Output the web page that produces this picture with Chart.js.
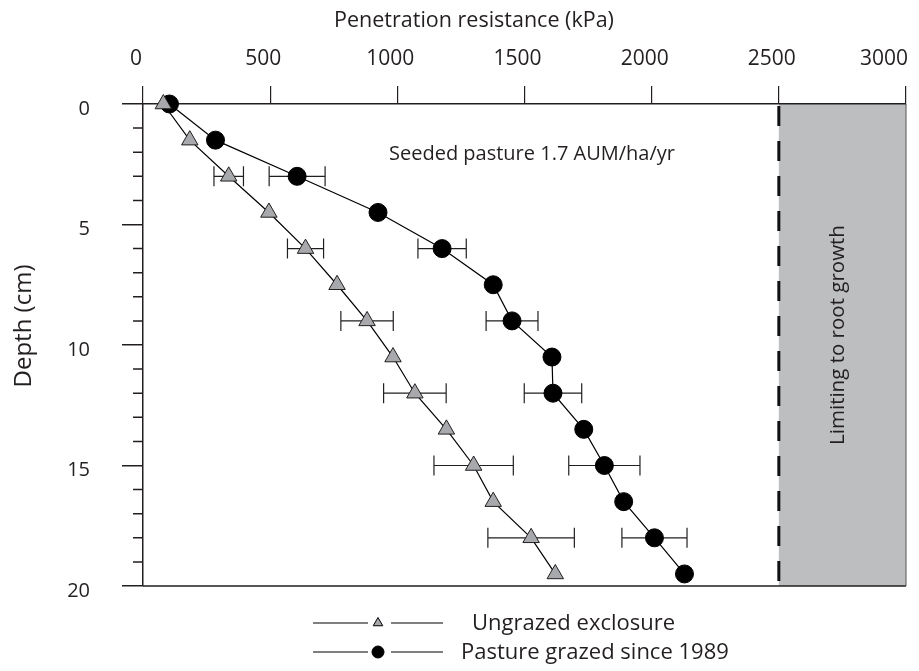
<!DOCTYPE html>
<html>
<head>
<meta charset="utf-8">
<script src="https://cdn.jsdelivr.net/npm/chart.js@4.4.0/dist/chart.umd.min.js"></script>
<style>
  html, body { margin: 0; padding: 0; background: #fff; }
</style>
</head>
<body>
<canvas id="profileChart" width="919" height="671"></canvas>
<script>
// depth (cm) vs penetration resistance (kPa)
const depths = [0, 1.5, 3, 4.5, 6, 7.5, 9, 10.5, 12, 13.5, 15, 16.5, 18, 19.5];
const ungrazed = [80, 184, 337, 495, 639, 763, 881, 983, 1069, 1193, 1300, 1377, 1526, 1621];
const grazed = [104, 285, 606, 924, 1176, 1377, 1451, 1608, 1612, 1733, 1814, 1890, 2011, 2129];
const ungrazedErr = [null, null, 58, null, 71, null, 103, null, 123, null, 156, null, 170, null];
const grazedErr = [null, null, 110, null, 95, null, 102, null, 113, null, 140, null, 128, null];
const seriesNames = ['Ungrazed exclosure', 'Pasture grazed since 1989'];
const xTicks = [0, 500, 1000, 1500, 2000, 2500, 3000];
const limitZone = [2500, 3000];

const INK = '#231f20';
const FONT = "'Open Sans', sans-serif";

function txt(ctx, s, x, y, size, align, rot) {
    ctx.save();
    ctx.font = size + 'px ' + FONT;
    ctx.fillStyle = INK;
    ctx.textAlign = align || 'left';
    ctx.textBaseline = 'alphabetic';
    ctx.translate(x, y);
    if (rot) ctx.rotate(rot);
    ctx.fillText(s, 0, 0);
    ctx.restore();
}

const decor = {
    id: 'decor',
    beforeDraw(chart) {
        const { ctx, chartArea: a, scales: { x } } = chart;
        ctx.save();
        ctx.fillStyle = '#fff';
        ctx.fillRect(0, 0, chart.width, chart.height);
        const x0 = x.getPixelForValue(limitZone[0]);
        const x1 = x.getPixelForValue(limitZone[1]);
        ctx.fillStyle = '#bcbec0';
        ctx.fillRect(x0, a.top, x1 - x0, a.bottom - a.top);
        ctx.restore();
    },
    beforeDatasetsDraw(chart) {
        const { ctx, chartArea: a, scales: { x, y } } = chart;
        ctx.save();
        ctx.strokeStyle = INK;

        // minor depth ticks
        ctx.lineWidth = 1.5;
        ctx.beginPath();
        for (let d = 1; d < 20; d++) {
            if (d % 5 === 0) continue;
            const py = y.getPixelForValue(d);
            ctx.moveTo(a.left - 10, py);
            ctx.lineTo(a.left, py);
        }
        // bottom and right frame
        ctx.moveTo(a.left, a.bottom);
        ctx.lineTo(a.right, a.bottom);
        ctx.stroke();
        ctx.lineWidth = 1;
        ctx.strokeStyle = '#555';
        ctx.beginPath();
        ctx.moveTo(a.right, a.top);
        ctx.lineTo(a.right, a.bottom);
        ctx.stroke();

        // dashed limit line
        const xl = x.getPixelForValue(limitZone[0]);
        ctx.strokeStyle = '#111';
        ctx.lineWidth = 3;
        ctx.setLineDash([20, 15]);
        ctx.beginPath();
        ctx.moveTo(xl, a.top + 2);
        ctx.lineTo(xl, a.bottom);
        ctx.stroke();
        ctx.setLineDash([]);

        // error bars
        ctx.strokeStyle = INK;
        ctx.lineWidth = 1.2;
        [[ungrazed, ungrazedErr], [grazed, grazedErr]].forEach(([vals, errs]) => {
            errs.forEach((e, i) => {
                if (e == null) return;
                const py = y.getPixelForValue(depths[i]);
                const l = x.getPixelForValue(vals[i] - e);
                const r = x.getPixelForValue(vals[i] + e);
                ctx.beginPath();
                ctx.moveTo(l, py); ctx.lineTo(r, py);
                ctx.moveTo(l, py - 10); ctx.lineTo(l, py + 10);
                ctx.moveTo(r, py - 10); ctx.lineTo(r, py + 10);
                ctx.stroke();
            });
        });
        ctx.restore();
    },
    afterDraw(chart) {
        const { ctx, scales: { x } } = chart;

        // top axis labels and title
        xTicks.forEach(v => {
            const w = 52;
            let cx = x.getPixelForValue(v) - 7;
            cx = Math.min(cx, 910 - w / 2);
            txt(ctx, String(v), cx, 65, 21, 'center');
        });
        txt(ctx, 'Penetration resistance (kPa)', 474, 27, 21.5, 'center');
        txt(ctx, 'Depth (cm)', 31, 326, 24, 'center', -Math.PI / 2);

        txt(ctx, 'Seeded pasture 1.7 AUM/ha/yr', 389, 160, 20, 'left');
        txt(ctx, 'Limiting to root growth', 844, 335, 20.5, 'center', -Math.PI / 2);

        // legend
        const rows = [
            { y: 623, tx: 472, style: 'triangle', fill: '#a7a9ac', r: 5.5 },
            { y: 652, tx: 461, style: 'circle', fill: '#000', r: 6 }
        ];
        rows.forEach((row, i) => {
            ctx.save();
            ctx.strokeStyle = '#000';
            ctx.lineWidth = 1.2;
            ctx.beginPath();
            ctx.moveTo(313, row.y); ctx.lineTo(368, row.y);
            ctx.moveTo(391, row.y); ctx.lineTo(443, row.y);
            ctx.stroke();
            ctx.fillStyle = row.fill;
            ctx.lineWidth = 1;
            Chart.helpers.drawPoint(ctx, { pointStyle: row.style, radius: row.r, rotation: 0, borderWidth: 1 }, 378, row.y);
            ctx.restore();
            txt(ctx, seriesNames[i], row.tx, row.y + 7, 22, 'left');
        });
    }
};

const pts = vals => depths.map((d, i) => ({ x: vals[i], y: d }));

new Chart(document.getElementById('profileChart'), {
    type: 'scatter',
    data: {
        datasets: [{
            label: seriesNames[0],
            data: pts(ungrazed),
            showLine: true,
            borderColor: '#000',
            borderWidth: 1.2,
            pointStyle: 'triangle',
            pointRadius: 9.5,
            pointBackgroundColor: '#a7a9ac',
            pointBorderColor: INK,
            pointBorderWidth: 1,
            clip: false
        }, {
            label: seriesNames[1],
            data: pts(grazed),
            showLine: true,
            borderColor: '#000',
            borderWidth: 1.2,
            pointStyle: 'circle',
            pointRadius: 9,
            pointBackgroundColor: '#000',
            pointBorderColor: '#000',
            pointBorderWidth: 1,
            clip: false
        }]
    },
    options: {
        responsive: false,
        animation: false,
        layout: { padding: { top: 0, left: 0, right: 13, bottom: 85 } },
        plugins: {
            legend: { display: false },
            tooltip: { enabled: false }
        },
        scales: {
            x: {
                type: 'linear',
                position: 'top',
                min: 0,
                max: 3000,
                ticks: { stepSize: 500, display: false },
                grid: { drawOnChartArea: false, tickLength: 18, color: INK, lineWidth: 1.2 },
                border: { color: INK, width: 1.5 },
                afterFit: s => { s.height = 104; }
            },
            y: {
                type: 'linear',
                position: 'left',
                reverse: true,
                min: 0,
                max: 20,
                ticks: {
                    stepSize: 5,
                    padding: 32,
                    labelOffset: 5,
                    color: INK,
                    font: { family: FONT, size: 20 }
                },
                grid: { drawOnChartArea: false, tickLength: 21, color: INK, lineWidth: 1.5 },
                border: { color: INK, width: 1.5 },
                afterFit: s => { s.width = 143; }
            }
        }
    },
    plugins: [decor]
});
</script>
</body>
</html>
